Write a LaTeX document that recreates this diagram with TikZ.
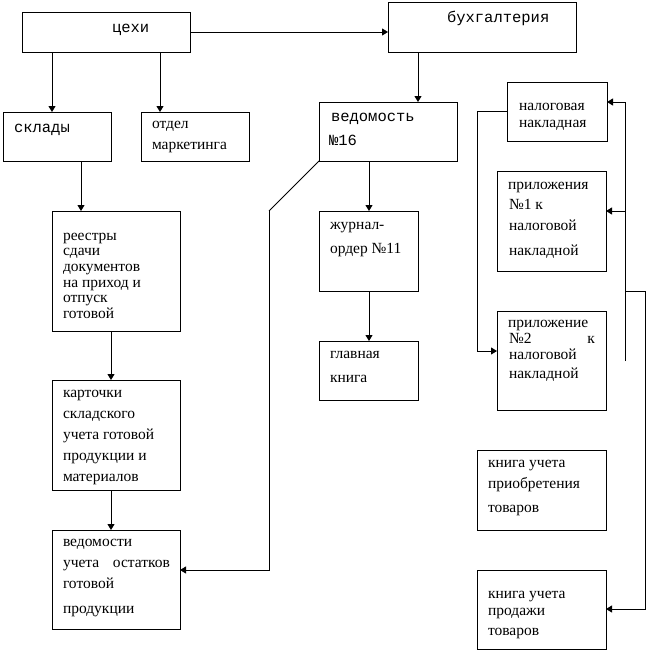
\documentclass[tikz,border=0pt]{standalone}
\usepackage{fontspec}
\setmainfont{Liberation Serif}
\newfontfamily\monofam{Liberation Mono}
\usetikzlibrary{arrows.meta}
\begin{document}
\begin{tikzpicture}[x=1pt,y=-1pt,
  box/.style={draw,line width=0.9pt,rectangle,inner sep=0pt,outer sep=0pt,anchor=north west},
  txt/.style={inner sep=0pt,outer sep=0pt,anchor=base west,font=\fontsize{15.5}{18}\selectfont},
  mtxt/.style={inner sep=0pt,outer sep=0pt,anchor=base west,font=\monofam\fontsize{15.5}{18}\selectfont},
  link/.style={line width=0.9pt},
  arr/.style={line width=0.9pt,-{Triangle[length=6pt,width=7pt]}}]
\useasboundingbox (0,0) rectangle (647,653);
% boxes
\node[box,minimum width=168,minimum height=40] (tsekhi) at (22,12) {};
\node[box,minimum width=188,minimum height=50] (buh) at (388,2) {};
\node[box,minimum width=108,minimum height=49] (sklady) at (3,112) {};
\node[box,minimum width=108,minimum height=49] (otdel) at (141,112) {};
\node[box,minimum width=128,minimum height=120] (reestry) at (52,211) {};
\node[box,minimum width=128,minimum height=110] (kartochki) at (52,380) {};
\node[box,minimum width=128,minimum height=99] (vedomosti) at (52,530) {};
\node[box,minimum width=138,minimum height=59] (ved16) at (319,102) {};
\node[box,minimum width=99,minimum height=80] (zhurnal) at (319,211) {};
\node[box,minimum width=99,minimum height=59] (glavnaya) at (319,341) {};
\node[box,minimum width=100,minimum height=59] (nalog) at (507,82) {};
\node[box,minimum width=109,minimum height=100] (pril1) at (497,171) {};
\node[box,minimum width=109,minimum height=99] (pril2) at (497,311) {};
\node[box,minimum width=129,minimum height=80] (knpr) at (477,450) {};
\node[box,minimum width=129,minimum height=79] (knprod) at (477,570) {};
% texts
\node[mtxt] (t1) at (112,32) {цехи};
\node[mtxt] (t2) at (447,22) {бухгалтерия};
\node[mtxt] (t3) at (14,132) {склады};
\node[txt] (t4a) at (152,128) {отдел};
\node[txt] (t4b) at (152,149) {маркетинга};
\node[txt] (t5a) at (63,240) {реестры};
\node[txt] (t5b) at (63,255) {сдачи};
\node[txt] (t5c) at (63,271) {документов};
\node[txt] (t5d) at (63,287) {на приход и};
\node[txt] (t5e) at (63,302) {отпуск};
\node[txt] (t5f) at (63,318) {готовой};
\node[txt] (t6a) at (63,397) {карточки};
\node[txt] (t6b) at (63,418) {складского};
\node[txt] (t6c) at (63,439) {учета готовой};
\node[txt] (t6d) at (63,460) {продукции и};
\node[txt] (t6e) at (63,481) {материалов};
\node[txt] (t7a) at (63,546) {ведомости};
\node[txt] (t7b) at (63,567) {\makebox[107pt][s]{учета остатков}};
\node[txt] (t7c) at (63,588) {готовой};
\node[txt] (t7d) at (63,613) {продукции};
\node[mtxt] (t8a) at (331,121) {ведомость};
\node[mtxt] (t8b) at (329,145) {№16};
\node[txt] (t9a) at (330,229) {журнал-};
\node[txt] (t9b) at (330,253) {ордер №11};
\node[txt] (t10a) at (330,358) {главная};
\node[txt] (t10b) at (330,382) {книга};
\node[txt] (t11a) at (519,110) {налоговая};
\node[txt] (t11b) at (519,127) {накладная};
\node[txt] (t12a) at (508,189) {приложения};
\node[txt] (t12b) at (509,209) {№1 к};
\node[txt] (t12c) at (509,230) {налоговой};
\node[txt] (t12d) at (509,255) {накладной};
\node[txt] (t13a) at (508,327) {приложение};
\node[txt] (t13b) at (509,343) {\makebox[86pt][s]{№2 к}};
\node[txt] (t13c) at (509,359) {налоговой};
\node[txt] (t13d) at (509,378) {накладной};
\node[txt] (t14a) at (488,467) {книга учета};
\node[txt] (t14b) at (488,488) {приобретения};
\node[txt] (t14c) at (488,512) {товаров};
\node[txt] (t15a) at (488,598) {книга учета};
\node[txt] (t15b) at (488,615) {продажи};
\node[txt] (t15c) at (488,635) {товаров};
% connectors
\draw[arr] (tsekhi.east) -- (tsekhi.east -| buh.west);
\draw[arr] (52,0 |- tsekhi.south) -- (52,0 |- sklady.north);
\draw[arr] (160,0 |- tsekhi.south) -- (160,0 |- otdel.north);
\draw[arr] (81,0 |- sklady.south) -- (81,0 |- reestry.north);
\draw[arr] (111,0 |- reestry.south) -- (111,0 |- kartochki.north);
\draw[arr] (111,0 |- kartochki.south) -- (111,0 |- vedomosti.north);
\draw[arr] (418,0 |- buh.south) -- (418,0 |- ved16.north);
\draw[link] (ved16.south west) -- (269,211);
\draw[arr] (269,211) -- (269,570) -- (vedomosti.east |- 0,570);
\draw[arr] (369,0 |- ved16.south) -- (369,0 |- zhurnal.north);
\draw[arr] (369,0 |- zhurnal.south) -- (369,0 |- glavnaya.north);
\draw[arr] (nalog.west) -- (477,0 |- nalog.west) -- (477,351) -- (pril2.west |- 0,351);
\draw[arr] (625,361) -- (625,102) -- (nalog.east |- 0,102);
\draw[arr] (625,211) -- (pril1.east |- 0,211);
\draw[arr] (625,291) -- (645,291) -- (645,609) -- (knprod.east |- 0,609);
\end{tikzpicture}
\end{document}
